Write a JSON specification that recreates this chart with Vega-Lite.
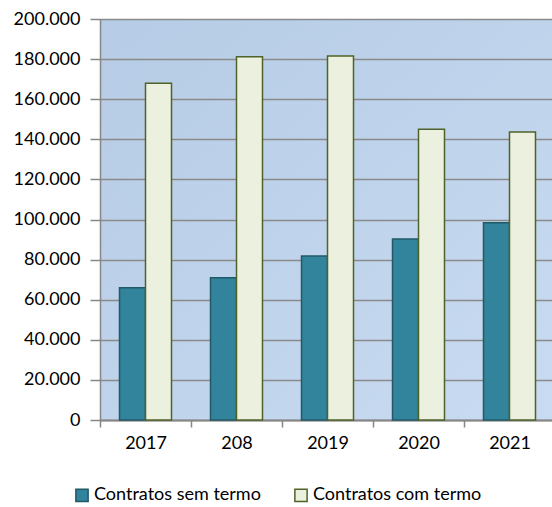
{
  "$schema": "https://vega.github.io/schema/vega-lite/v6.json",
  "autosize": {"type": "none"},
  "width": 455,
  "height": 401,
  "padding": {"left": 100, "top": 19, "right": 0, "bottom": 87},
  "background": "white",
  "data": {"values": [
    {"ano": "2017", "serie": "Contratos sem termo", "valor": 66000},
    {"ano": "2017", "serie": "Contratos com termo", "valor": 167900},
    {"ano": "208", "serie": "Contratos sem termo", "valor": 71000},
    {"ano": "208", "serie": "Contratos com termo", "valor": 181200},
    {"ano": "2019", "serie": "Contratos sem termo", "valor": 81800},
    {"ano": "2019", "serie": "Contratos com termo", "valor": 181500},
    {"ano": "2020", "serie": "Contratos sem termo", "valor": 90300},
    {"ano": "2020", "serie": "Contratos com termo", "valor": 145000},
    {"ano": "2021", "serie": "Contratos sem termo", "valor": 98400},
    {"ano": "2021", "serie": "Contratos com termo", "valor": 143600}
  ]},
  "mark": {"type": "bar", "strokeWidth": 1.5},
  "encoding": {
    "x": {
      "field": "ano", "type": "nominal", "sort": null,
      "scale": {"paddingInner": 0, "paddingOuter": 0},
      "axis": {"title": null, "labelAngle": 0, "labelFont": "Lato", "labelFontSize": 18, "labelColor": "#000000",
               "labelPadding": 7, "domain": true, "domainColor": "#868686", "domainWidth": 2,
               "ticks": true, "tickColor": "#868686", "tickWidth": 1.5, "tickSize": 7, "tickBand": "extent", "grid": false}
    },
    "xOffset": {"field": "serie", "type": "nominal", "sort": ["Contratos sem termo", "Contratos com termo"],
                "scale": {"paddingInner": 0, "paddingOuter": 0.75}},
    "y": {
      "field": "valor", "type": "quantitative",
      "scale": {"domain": [0, 200000], "nice": false},
      "axis": {"title": null, "values": [0, 20000, 40000, 60000, 80000, 100000, 120000, 140000, 160000, 180000, 200000],
               "labelExpr": "replace(format(datum.value, ','), ',', '.')",
               "labelFont": "Lato", "labelFontSize": 18, "labelColor": "#000000", "labelPadding": 10,
               "domain": true, "domainColor": "#868686", "domainWidth": 1.5,
               "ticks": true, "tickColor": "#868686", "tickSize": 10, "tickWidth": 1.5,
               "grid": true, "gridColor": "#8a8a8a", "gridWidth": 1.5}
    },
    "fill": {"field": "serie", "type": "nominal", "sort": ["Contratos sem termo", "Contratos com termo"],
             "scale": {"domain": ["Contratos sem termo", "Contratos com termo"], "range": ["#31849B", "#EBF1DE"]},
             "legend": {"title": null, "orient": "none", "legendX": -27, "legendY": 467, "direction": "horizontal",
                        "symbolType": "square", "symbolSize": 150, "symbolStrokeWidth": 1.5, "labelLimit": 0,
                        "labelFont": "Lato", "labelFontSize": 18, "labelColor": "#000000", "columnPadding": 30, "labelOffset": 3}},
    "stroke": {"field": "serie", "type": "nominal", "sort": ["Contratos sem termo", "Contratos com termo"],
               "scale": {"domain": ["Contratos sem termo", "Contratos com termo"], "range": ["#215968", "#4F6228"]},
               "legend": null}
  },
  "config": {
    "view": {
      "stroke": null,
      "fill": {"gradient": "linear", "x1": 0, "y1": 0, "x2": 1, "y2": 1,
               "stops": [{"offset": 0, "color": "#b6cbe5"}, {"offset": 1, "color": "#c8dbf2"}]}
    }
  }
}
